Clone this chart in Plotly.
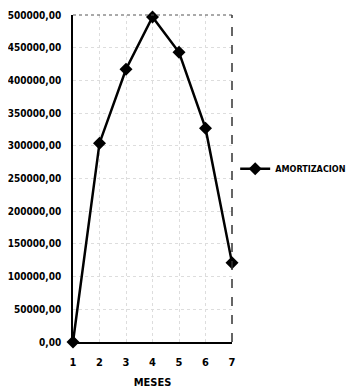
import plotly.graph_objects as go

meses = [1, 2, 3, 4, 5, 6, 7]
amortizacion = [0, 304000, 417000, 497000, 443000, 327000, 121000]
y_ticks = [0, 50000, 100000, 150000, 200000, 250000, 300000, 350000, 400000, 450000, 500000]
y_tick_labels = ["0,00", "50000,00", "100000,00", "150000,00", "200000,00", "250000,00",
                 "300000,00", "350000,00", "400000,00", "450000,00", "500000,00"]

FONT = "DejaVu Sans Condensed, Liberation Sans Narrow, Arial Narrow, sans-serif"

fig = go.Figure()
fig.add_trace(go.Scatter(
    x=meses, y=amortizacion, mode="lines+markers", name="<b>AMORTIZACION</b>",
    line=dict(color="black", width=2.5),
    marker=dict(symbol="diamond", size=10, color="black"),
    cliponaxis=False,
))

fig.update_layout(
    width=359, height=391,
    margin=dict(l=65, r=135, t=7, b=57, autoexpand=False),
    paper_bgcolor="white", plot_bgcolor="white",
    font=dict(family=FONT, size=10, color="black"),
    showlegend=True,
    legend=dict(x=1.02, y=0.53, xanchor="left", yanchor="middle",
                font=dict(family=FONT, size=9, color="black"),
                bgcolor="rgba(0,0,0,0)", itemwidth=30, tracegroupgap=0),
    xaxis=dict(
        range=[1, 7], tickmode="array", tickvals=meses,
        ticktext=["<b>%d</b>" % m for m in meses],
        showline=True, linecolor="black", linewidth=2, mirror=False,
        showgrid=True, gridcolor="#dddddd", griddash="dot", gridwidth=1,
        zeroline=False, ticks="", ticklen=0, automargin=False,
        ticklabelstandoff=9,
        tickfont=dict(family=FONT, size=11, color="black"),
        title=dict(text="<b>MESES</b>", font=dict(family=FONT, size=11, color="black"), standoff=10),
    ),
    yaxis=dict(
        range=[0, 500000], tickmode="array", tickvals=y_ticks,
        ticktext=["<b>%s</b>" % t for t in y_tick_labels],
        showline=True, linecolor="black", linewidth=1.5,
        showgrid=True, gridcolor="#dddddd", griddash="dot", gridwidth=1,
        zeroline=False, ticks="", ticklen=0, automargin=False,
        ticklabelstandoff=8,
        tickfont=dict(family=FONT, size=10, color="black"),
    ),
    shapes=[
        dict(type="line", xref="paper", yref="paper", x0=0, x1=1, y0=1, y1=1,
             line=dict(color="#555555", width=1, dash="dot")),
        dict(type="line", xref="paper", yref="paper", x0=1, x1=1, y0=0, y1=1,
             line=dict(color="#333333", width=1.5, dash="dash")),
    ],
)

fig.write_html("out.html")
